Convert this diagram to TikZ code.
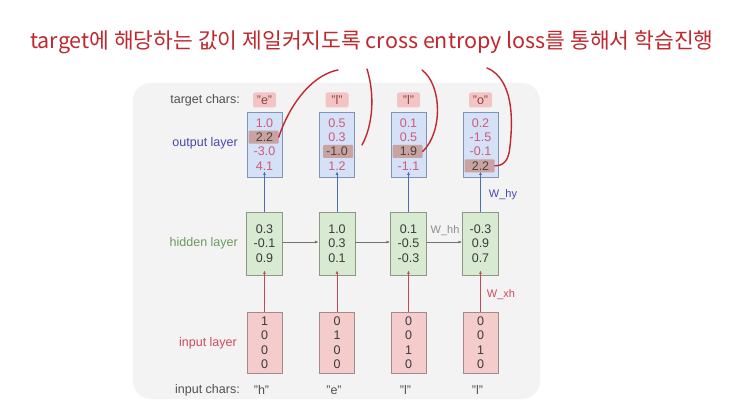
\documentclass[tikz,border=0pt]{standalone}
\usepackage{fontspec}
\setmainfont{Liberation Sans}
\newfontfamily\krfont{Noto Sans CJK KR}
\usetikzlibrary{arrows.meta}
\definecolor{panelbg}{HTML}{F3F3F3}
\definecolor{outfill}{HTML}{D5E1F6}
\definecolor{outdraw}{HTML}{8393B5}
\definecolor{outtext}{HTML}{D0587A}
\definecolor{hidfill}{HTML}{D9EAD3}
\definecolor{hiddraw}{HTML}{8A9A82}
\definecolor{infill}{HTML}{F4CCCC}
\definecolor{indraw}{HTML}{A08A8A}
\definecolor{valtext}{HTML}{3A3A3A}
\definecolor{hlfill}{HTML}{C9A2A2}
\definecolor{hltext}{HTML}{4B4238}
\definecolor{tgfill}{HTML}{F4C4C4}
\definecolor{tgtext}{HTML}{8A4646}
\definecolor{bluearr}{HTML}{4A6FB0}
\definecolor{redarr}{HTML}{C8465A}
\definecolor{grayarr}{HTML}{707070}
\definecolor{bluelab}{HTML}{4848B0}
\definecolor{greenlab}{HTML}{6A9A5A}
\definecolor{redlab}{HTML}{CC4A5A}
\definecolor{graylab}{HTML}{505050}
\definecolor{pen}{HTML}{C0282E}
\tikzset{
  txt/.style={font=\fontsize{12.5}{14}\selectfont, inner sep=0pt},
  outbox/.style={draw=outdraw, fill=outfill, line width=0.9pt, minimum width=35pt, minimum height=65pt, inner sep=0pt},
  hidbox/.style={draw=hiddraw, fill=hidfill, line width=0.9pt, minimum width=36pt, minimum height=63pt, inner sep=0pt},
  inbox/.style={draw=indraw, fill=infill, line width=0.9pt, minimum width=35pt, minimum height=61pt, inner sep=0pt},
  hlcell/.style={fill=hlfill, minimum width=30pt, minimum height=13pt, inner sep=0pt, rounded corners=1pt},
  tgbox/.style={fill=tgfill, rounded corners=2pt, minimum width=23pt, minimum height=15pt, inner sep=2pt, txt, text=tgtext},
  varr/.style={line width=0.8pt, -{Latex[length=3.5pt,width=3pt]}},
  harr/.style={line width=0.8pt, draw=grayarr, -{Latex[length=3.5pt,width=3pt]}},
  penline/.style={draw=pen, line width=1.4pt, line cap=round},
}
\begin{document}
\begin{tikzpicture}[x=1pt,y=-1pt]
\useasboundingbox (0,0) rectangle (742,414);
\fill[white] (0,0) rectangle (742,414);
% panel
\fill[panelbg, rounded corners=18pt] (133,83) rectangle (540,399);
% handwritten note
\node[anchor=west, inner sep=0pt, text=pen, font=\krfont\fontsize{21.5}{24}\selectfont] (note) at (30,42) {target에 해당하는 값이 제일커지도록 cross entropy loss를 통해서 학습진행};
% row labels
\node[txt, anchor=east, text=graylab] (ltarget) at (240,100) {target chars:};
\node[txt, anchor=east, text=bluelab] (lout) at (238,143) {output layer};
\node[txt, anchor=east, text=greenlab] (lhid) at (238,243) {hidden layer};
\node[txt, anchor=east, text=redlab] (lin) at (237,343) {input layer};
\node[txt, anchor=east, text=graylab] (linch) at (240,390) {input chars:};
% columns
\foreach \i/\x/\tg/\ic/\ha/\hb/\hc/\ia/\ib/\icc/\id in {
  1/264.5/"e"/"h"/0.3/-0.1/0.9/1/0/0/0,
  2/337/"l"/"e"/1.0/0.3/0.1/0/1/0/0,
  3/408.5/"l"/"l"/0.1/-0.5/-0.3/0/0/1/0,
  4/480.5/"o"/"l"/-0.3/0.9/0.7/0/0/1/0}{
  \node[tgbox] (tg\i) at (\x,100) {\tg};
  \node[outbox] (out\i) at (\x,144.5) {};
  \node[hidbox] (hid\i) at (\x,243.5) {};
  \node[inbox] (in\i) at (\x,342.5) {};
  \node[txt, text=graylab] (ich\i) at (\x-3,390) {\ic};
  % hidden values
  \node[txt, text=valtext] (h\i a) at (\x,229) {\ha};
  \node[txt, text=valtext] (h\i b) at (\x,243.5) {\hb};
  \node[txt, text=valtext] (h\i c) at (\x,258) {\hc};
  % input values
  \node[txt, text=valtext] (i\i a) at (\x,321) {\ia};
  \node[txt, text=valtext] (i\i b) at (\x,335.5) {\ib};
  \node[txt, text=valtext] (i\i c) at (\x,350) {\icc};
  \node[txt, text=valtext] (i\i d) at (\x,364.5) {\id};
  % arrows
  \draw[varr, draw=bluearr] (hid\i.north) -- ([yshift=6pt]out\i.south);
  \draw[varr, draw=redarr] (in\i.north) -- ([yshift=5pt]hid\i.south);
}
% highlighted cells
\node[hlcell] (hl1) at (263.5,137.2) {};
\node[hlcell] (hl2) at (338,151.5) {};
\node[hlcell] (hl3) at (407.5,151.5) {};
\node[hlcell] (hl4) at (479.5,165.8) {};
% output values
\foreach \i/\x/\oa/\ob/\oc/\od/\hl in {
  1/264.5/1.0/2.2/-3.0/4.1/2,
  2/337/0.5/0.3/-1.0/1.2/3,
  3/408.5/0.1/0.5/1.9/-1.1/3,
  4/480.5/0.2/-1.5/-0.1/2.2/4}{
  \foreach \r/\v/\yy in {1/\oa/123,2/\ob/137.3,3/\oc/151.6,4/\od/165.9}{
    \ifnum\r=\hl
      \node[txt, text=hltext] (o\i r\r) at (\x,\yy) {\v};
    \else
      \node[txt, text=outtext] (o\i r\r) at (\x,\yy) {\v};
    \fi
  }
}
% recurrent arrows
\draw[harr] (hid1.east |- 0,242) -- (hid2.west |- 0,242);
\draw[harr] (hid2.east |- 0,242) -- (hid3.west |- 0,242);
\draw[harr] (hid3.east |- 0,242) -- (hid4.west |- 0,242);
\node[txt, text=grayarr!80, font=\fontsize{11}{13}\selectfont] (whh) at (445,231) {W\_hh};
\node[txt, text=bluelab, font=\fontsize{11}{13}\selectfont] (why) at (503,195) {W\_hy};
\node[txt, text=redlab, font=\fontsize{11}{13}\selectfont] (wxh) at (501,295) {W\_xh};
% pen strokes
\coordinate (p1) at (338,70);
\coordinate (p2) at (367,69);
\coordinate (p3) at (422,70);
\coordinate (p4) at (487,68);
\draw[penline] (p1) .. controls (316,74) and (292,98) .. (hl1.east);
\draw[penline] (p2) .. controls (375,95) and (373,125) .. (362,145);
\draw[penline] (p3) .. controls (442,85) and (443,132) .. (hl3.east);
\draw[penline] (p4) .. controls (516,80) and (512,128) .. (510,146) .. controls (509,160) and (504,166) .. (hl4.east);
\end{tikzpicture}
\end{document}
